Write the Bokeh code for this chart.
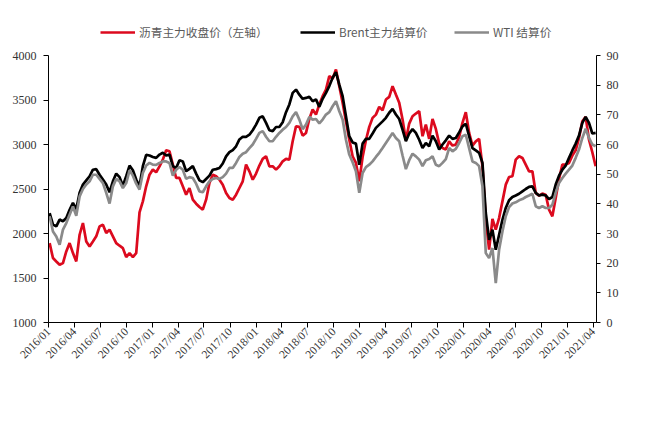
import pandas as pd
from datetime import datetime
from bokeh.plotting import figure
from bokeh.models import (ColumnDataSource, Range1d, LinearAxis, FixedTicker,
                          DatetimeTickFormatter, Legend, LegendItem)
from bokeh.embed import file_html
from bokeh.resources import INLINE

# ---------------- data ----------------
start_date = "2016-01-05"
end_date = "2021-04-10"
n_points = 165

# 沥青主力收盘价 (left axis, 元/吨)
asphalt = [
    1892, 1724, 1686, 1649, 1668, 1799, 1892, 1780, 1686, 1986,
    2118, 1911, 1855, 1911, 1968, 2080, 2099, 2005, 2043, 1968,
    1892, 1863, 1836, 1735, 1780, 1735, 1780, 2238, 2361, 2530,
    2661, 2718, 2688, 2755, 2830, 2935, 2924, 2774, 2624,
    2624, 2530, 2436, 2511, 2380, 2335, 2298, 2268, 2380, 2568,
    2661, 2643, 2605, 2549, 2455, 2399, 2380, 2436, 2511, 2586,
    2774, 2699, 2605, 2673, 2763, 2838, 2868, 2755, 2755, 2718,
    2755, 2811, 2838, 2830, 3036, 3205, 3198, 3100, 3130, 3288,
    3393, 3336, 3449, 3543, 3618, 3768, 3738, 3843, 3655, 3468,
    3261, 3055, 2868, 2793, 2586, 2860, 3048, 3198, 3299, 3336,
    3423, 3385, 3505, 3535, 3655, 3561, 3468, 3280, 3048, 3235,
    3318, 3348, 3374, 3093, 3224, 3063, 3288, 3175, 3010, 2961,
    2943,
    3036, 2988, 2999, 3085, 3243, 3363, 3130, 2988, 3036, 3063,
    2755, 2155, 1818, 2163, 2043, 2174, 2361, 2549, 2635, 2643,
    2830, 2868, 2849, 2774, 2699, 2699, 2455, 2425, 2448, 2436,
    2268, 2193, 2399, 2613, 2774, 2774, 2793, 2875, 2935, 3074,
    3261, 3310, 3055, 2913, 2755,
]

# Brent主力结算价 (right axis, $/bbl)
brent = [
    36.9, 33.0, 32.4, 34.7, 34.1, 35.2, 38.0, 40.3, 38.2, 43.7,
    46.5, 47.9, 49.3, 51.5, 51.7, 49.8, 48.2, 46.5, 43.9, 47.6,
    50.2, 49.0, 46.1, 49.3, 52.9, 51.3, 48.2, 45.9, 52.7, 56.5,
    56.3, 55.8, 55.5, 56.6, 57.2, 56.3, 56.6, 52.7, 52.1,
    54.7, 54.3, 51.0, 51.8, 52.7, 50.2, 47.9, 47.3, 48.4, 49.5,
    51.5, 51.7, 52.1, 53.6, 56.0, 57.4, 58.1, 59.4, 61.7, 62.6,
    62.6, 63.3, 64.8, 66.7, 69.0, 69.5, 67.3, 64.8, 64.5, 65.9,
    65.9, 67.5, 70.9, 73.5, 77.4, 78.5, 76.8, 75.4, 75.7, 76.1,
    74.6, 75.2, 72.7, 75.4, 77.4, 79.7, 82.5, 84.4, 80.2, 76.3,
    69.5, 62.8, 60.7, 60.3, 53.2, 60.3, 61.9, 61.9, 63.7, 65.6,
    66.7, 67.8, 69.0, 70.7, 72.0, 70.1, 68.6, 65.0, 61.1, 63.7,
    65.2, 63.9, 61.6, 58.8, 60.5, 59.4, 63.0, 61.1, 58.3, 60.0,
    61.4,
    63.0, 61.9, 62.2, 64.1, 66.1, 67.0, 62.8, 58.8, 58.0, 57.2,
    53.8, 36.9, 27.9, 31.3, 24.5, 29.6, 34.6, 38.6, 41.2, 42.3,
    42.8, 43.4, 44.2, 45.0, 45.7, 45.9, 43.7, 42.8, 43.1, 42.8,
    41.6, 42.3, 46.5, 49.5, 51.5, 52.9, 55.5, 58.0, 60.3, 63.0,
    67.3, 69.3, 67.3, 63.7, 63.9,
]

# WTI 结算价 (right axis, $/bbl)
wti = [
    35.8, 30.7, 29.0, 26.2, 31.3, 33.5, 36.3, 39.1, 36.0, 42.5,
    45.0, 46.5, 47.6, 49.8, 49.8, 48.4, 47.0, 43.7, 40.1, 45.9,
    48.4, 47.6, 45.3, 47.0, 51.3, 49.5, 46.8, 44.8, 50.4, 52.9,
    53.8, 53.2, 53.1, 53.8, 54.3, 54.3, 53.8, 49.5, 51.5,
    52.4, 51.5, 48.4, 49.0, 48.7, 46.8, 44.2, 43.9, 45.9, 47.6,
    48.4, 48.7, 48.4, 49.0, 50.2, 52.1, 52.1, 53.8, 55.8, 56.9,
    57.4, 58.8, 60.0, 61.9, 63.9, 64.5, 62.6, 61.1, 61.1, 62.6,
    63.9, 65.0, 65.9, 67.3, 69.5, 70.9, 68.4, 65.2, 66.7, 69.3,
    68.4, 68.6, 67.1, 68.4, 70.1, 70.9, 72.9, 74.6, 71.2, 68.4,
    61.6, 56.6, 54.0, 51.0, 43.7, 50.4, 52.4, 53.2, 54.3, 55.8,
    57.2, 58.8, 60.5, 62.2, 63.9, 62.2, 61.1, 56.3, 51.7, 54.7,
    56.9, 56.0, 54.9, 52.7, 54.7, 55.1, 56.0, 53.2, 52.7, 53.8,
    55.1,
    58.8, 57.7, 58.5, 60.5, 62.8, 63.3, 58.8, 54.3, 53.8, 52.7,
    45.9, 23.4, 21.7, 25.1, 13.3, 24.5, 30.7, 35.8, 38.9, 40.1,
    40.5, 41.2, 41.6, 42.3, 42.8, 43.4, 39.2, 38.6, 39.2, 38.6,
    38.6, 39.7, 43.7, 47.0, 48.7, 50.2, 51.5, 52.9, 55.5, 58.3,
    62.2, 65.3, 62.2, 60.0, 59.4,
]

series_labels = ["沥青主力收盘价（左轴）", "Brent主力结算价", "WTI 结算价"]
left_ticks = [1000, 1500, 2000, 2500, 3000, 3500, 4000]
right_ticks = [0, 10, 20, 30, 40, 50, 60, 70, 80, 90]
x_tick_labels = [
    "2016/01", "2016/04", "2016/07", "2016/10", "2017/01", "2017/04",
    "2017/07", "2017/10", "2018/01", "2018/04", "2018/07", "2018/10",
    "2019/01", "2019/04", "2019/07", "2019/10", "2020/01", "2020/04",
    "2020/07", "2020/10", "2021/01", "2021/04",
]

# ---------------- chart ----------------
RED = "#DC0A1E"
BLACK = "#000000"
GRAY = "#8A8A8A"
TICK_COLOR = "#333333"

W, H = 635, 409
TOP = 5            # frame top (figure px); axes themselves start 50 px lower
AXIS_TOP = 55      # where the 4000 / 90 ticks sit
BOTTOM = 87
plot_h = H - TOP - BOTTOM
axis_h = H - AXIS_TOP - BOTTOM
left_lo, left_hi = left_ticks[0], left_ticks[-1]
right_lo, right_hi = right_ticks[0], right_ticks[-1]
extra = (AXIS_TOP - TOP) / axis_h
left_top = left_hi + extra * (left_hi - left_lo)
right_top = right_hi + extra * (right_hi - right_lo)

dates = pd.date_range(start_date, end_date, periods=n_points)
src = ColumnDataSource(dict(date=dates, asphalt=asphalt, brent=brent, wti=wti))

p = figure(width=W, height=H, x_axis_type="datetime",
           output_backend="svg", toolbar_location=None,
           x_range=Range1d(datetime(2016, 1, 1), datetime(2021, 4, 13)),
           y_range=Range1d(left_lo, left_top),
           min_border_left=48, min_border_right=39,
           min_border_top=TOP, min_border_bottom=BOTTOM)
p.extra_y_ranges = {"right": Range1d(right_lo, right_top)}
p.grid.visible = False
p.outline_line_color = None
p.background_fill_color = "white"
p.border_fill_color = "white"

r_red = p.line("date", "asphalt", source=src, line_color=RED, line_width=2.7)
r_blk = p.line("date", "brent", source=src, line_color=BLACK, line_width=2.7,
               y_range_name="right")
r_gry = p.line("date", "wti", source=src, line_color=GRAY, line_width=2.7,
               y_range_name="right")

tick_ms = [pd.Timestamp(datetime.strptime(s, "%Y/%m")).value / 1e6 for s in x_tick_labels]

def style_axis(ax, size):
    ax.axis_line_color = "black"
    ax.axis_line_width = 1
    ax.major_tick_line_color = "black"
    ax.minor_tick_line_color = None
    ax.major_tick_in = 0
    ax.major_label_text_font = "Liberation Serif"
    ax.major_label_text_font_size = size
    ax.major_label_text_color = TICK_COLOR

xa = p.xaxis[0]
xa.ticker = FixedTicker(ticks=tick_ms)
xa.formatter = DatetimeTickFormatter(days="%Y/%m", months="%Y/%m", years="%Y/%m")
xa.major_label_orientation = 0.785398
style_axis(xa, "11.5px")
xa.major_tick_out = 5
xa.major_label_standoff = 2

ya = p.yaxis[0]
ya.ticker = FixedTicker(ticks=left_ticks)
ya.bounds = (left_lo, left_hi)
style_axis(ya, "12px")
ya.major_tick_out = 5
ya.major_label_standoff = 7

yr = LinearAxis(y_range_name="right", ticker=FixedTicker(ticks=right_ticks),
                bounds=(right_lo, right_hi))
style_axis(yr, "12px")
yr.major_tick_out = 4
yr.major_label_standoff = 6
p.add_layout(yr, "right")

legend_y = plot_h - (31.7 - 8 - TOP) - 18
for rend, label, xoff in [(r_red, series_labels[0], 52),
                          (r_blk, series_labels[1], 252),
                          (r_gry, series_labels[2], 406)]:
    leg = Legend(items=[LegendItem(label=label, renderers=[rend])],
                 location=(xoff, legend_y), orientation="horizontal",
                 padding=0, margin=0, spacing=0,
                 border_line_color=None, background_fill_alpha=0,
                 glyph_width=35, glyph_height=20, label_standoff=4,
                 label_text_font="Noto Sans CJK SC",
                 label_text_font_size="11.7px",
                 label_text_color="#595959")
    p.add_layout(leg)

open("out.html", "w").write(file_html(p, INLINE))
